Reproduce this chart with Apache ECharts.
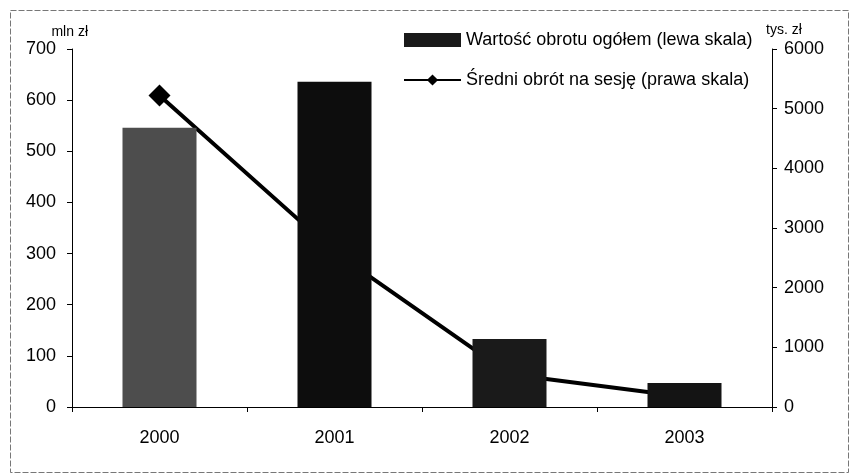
<!DOCTYPE html>
<html>
<head>
<meta charset="utf-8">
<script src="https://cdn.jsdelivr.net/npm/echarts@6/dist/echarts.min.js"></script>
<style>html,body{margin:0;padding:0;background:#fff}#c{width:853px;height:476px}</style>
</head>
<body>
<div id="c"></div>
<script>
const categories = ['2000', '2001', '2002', '2003'];
const turnoverTotal = [546, 636, 133, 47];
const avgPerSession = [5220, 2600, 550, 170];
const barColors = ['#4d4d4d', '#0d0d0d', '#1a1a1a', '#141414'];
const seriesNames = ['Wartość obrotu ogółem (lewa skala)', 'Średni obrót na sesję (prawa skala)'];

const font = 'Liberation Sans, Arial, sans-serif';
const chart = echarts.init(document.getElementById('c'));
chart.setOption({
  animation: false,
  backgroundColor: '#fff',
  textStyle: { fontFamily: font, color: '#000' },
  graphic: [{
    type: 'rect', left: 8, top: 8, shape: { width: 838, height: 462 },
    style: { fill: 'none', stroke: '#777', lineWidth: 1, lineDash: [6, 2] }, silent: true
  }],
  grid: { left: 72, right: 81, top: 49, bottom: 69 },
  legend: {
    orient: 'vertical', left: 398, top: 26, itemGap: 22,
    itemWidth: 57, itemHeight: 14,
    textStyle: { fontSize: 18, color: '#000', fontFamily: font },
    data: [
      { name: seriesNames[0], icon: 'rect', itemStyle: { color: '#1a1a1a' } },
      { name: seriesNames[1] }
    ]
  },
  xAxis: {
    type: 'category', data: categories, boundaryGap: true,
    axisLine: { lineStyle: { color: '#000', width: 1 } },
    axisTick: { show: true, length: 5, lineStyle: { color: '#000' } },
    axisLabel: { fontSize: 18, color: '#000', margin: 22, fontFamily: font }
  },
  yAxis: [{
    type: 'value', min: 0, max: 700, interval: 100,
    name: 'mln zł', nameLocation: 'end', nameGap: 10,
    nameTextStyle: { fontSize: 14, color: '#000', align: 'right', padding: [0, -16, 0, 0], fontFamily: font },
    axisLine: { show: true, lineStyle: { color: '#000' } },
    axisTick: { show: true, length: 5, lineStyle: { color: '#000' } },
    splitLine: { show: false },
    axisLabel: { fontSize: 18, color: '#000', margin: 16, fontFamily: font }
  }, {
    type: 'value', min: 0, max: 6000, interval: 1000, position: 'right',
    name: 'tys. zł', nameLocation: 'end', nameGap: 12,
    nameTextStyle: { fontSize: 14, color: '#000', align: 'left', padding: [0, 0, 0, -6], fontFamily: font },
    axisLine: { show: true, lineStyle: { color: '#000' } },
    axisTick: { show: true, length: 5, lineStyle: { color: '#000' } },
    splitLine: { show: false },
    axisLabel: { fontSize: 18, color: '#000', margin: 12, fontFamily: font, formatter: v => String(v) }
  }],
  series: [{
    name: seriesNames[0], type: 'bar', yAxisIndex: 0, barWidth: 74, z: 6,
    data: turnoverTotal.map((v, i) => ({ value: v, itemStyle: { color: barColors[i] } })),
    itemStyle: { color: '#1a1a1a' }
  }, {
    name: seriesNames[1], type: 'line', yAxisIndex: 1,
    data: avgPerSession,
    symbol: 'diamond', symbolSize: 22,
    lineStyle: { color: '#000', width: 4 },
    itemStyle: { color: '#000' }, z: 3
  }]
});
</script>
</body>
</html>
